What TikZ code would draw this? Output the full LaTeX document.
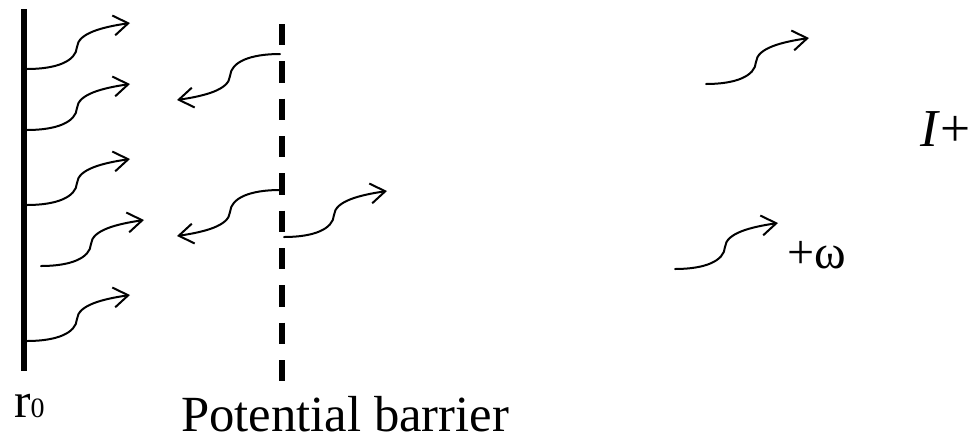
\documentclass[tikz,border=0pt]{standalone}
\usepackage{fontspec}
\setmainfont{Liberation Serif}
\usetikzlibrary{arrows.meta}
\tikzset{
  wave/.style={line width=1.5pt, line cap=round, -{Straight Barb[length=11pt,width=15pt]}},
  rwave/.pic={\draw[wave] (0,0) .. controls (30,0) and (49,-8) .. (50,-22) .. controls (51,-36) and (76,-42) .. (103,-46);},
  wall/.style={line width=4pt},
  barrier/.style={line width=4.5pt, dash pattern=on 16pt off 12pt},
  lbl/.style={anchor=base west, inner sep=0pt, text depth=0pt}
}
\begin{document}
\begin{tikzpicture}[x=0.75pt,y=-0.75pt]
\useasboundingbox (0,0) rectangle (970,437);
% wall at r0
\coordinate (wtop) at (24,9);
\coordinate (wbot) at (24,371);
\draw[wall] (wtop) -- (wbot);
% potential barrier
\coordinate (btop) at (282,24);
\coordinate (bbot) at (282,382);
\draw[barrier] (btop) -- (bbot);
% waves leaving the wall
\pic at (27,69) {rwave};
\pic at (27,130) {rwave};
\pic at (27,205) {rwave};
\pic at (41,266) {rwave};
\pic at (27,341) {rwave};
% reflected waves
\pic[rotate=180] at (280,54) {rwave};
\pic[rotate=180] at (280,190) {rwave};
% transmitted wave
\pic at (284,237) {rwave};
% far waves
\pic at (706,84) {rwave};
\pic at (675,269) {rwave};
% labels
\node[lbl] (r0) at (14,417) {{\fontsize{37}{37}\selectfont r}{\fontsize{21}{21}\selectfont 0}};
\node[lbl, font=\fontsize{38}{38}\selectfont] (pb) at (181,431) {Potential barrier};
\node[lbl, font=\fontsize{36}{36}\selectfont] (om) at (787,268) {+ω};
\node[lbl, font=\fontsize{40}{40}\selectfont] (ip) at (920,146) {\textit{I}+};
\end{tikzpicture}
\end{document}
